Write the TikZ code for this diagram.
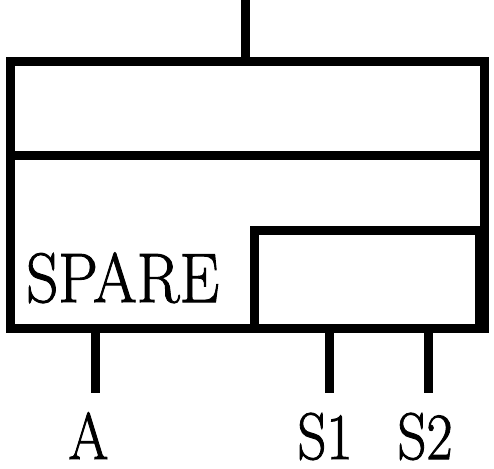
\documentclass[tikz,border=0pt]{standalone}
\usepackage{fontspec}
\newfontfamily\lmfat[FakeBold=1.5]{Latin Modern Roman}
\begin{document}
\begin{tikzpicture}[x=1pt,y=-1pt,
  wire/.style={line width=9pt, line cap=butt},
  box/.style={draw, line width=9pt, line join=miter},
  lbl/.style={inner sep=0pt, anchor=base, font=\lmfat\fontsize{66}{66}\selectfont}]
\useasboundingbox (0,0) rectangle (494,468);
% outer box
\coordinate (oTL) at (10.5,61.7);
\coordinate (oBR) at (484,328.5);
\draw[box] (oTL) rectangle (oBR);
\coordinate (divL) at (10.5,155);
\coordinate (divR) at (484,155);
\draw[wire] (divL) -- (divR);
% inner box
\coordinate (iTL) at (254.5,230.5);
\coordinate (iBR) at (479.5,328.5);
\draw[box] (iTL) rectangle (iBR);
% text
\node (spare) [inner sep=0pt, anchor=base west, font=\lmfat\fontsize{70}{70}\selectfont] at (26,302) {\scalebox{0.9}[1]{SPARE}};
% top wire
\coordinate (topEnd) at (245,0);
\coordinate (topJoin) at (245,61.7);
\draw[wire] (topEnd) -- (topJoin);
% bottom wires
\coordinate (aJoin) at (95,328.5);
\coordinate (aEnd) at (95,393);
\coordinate (s1Join) at (329.5,328.5);
\coordinate (s1End) at (329.5,393);
\coordinate (s2Join) at (428,328.5);
\coordinate (s2End) at (428,393);
\draw[wire] (aJoin) -- (aEnd);
\draw[wire] (s1Join) -- (s1End);
\draw[wire] (s2Join) -- (s2End);
% labels
\node (A) [lbl] at (88.5,459) {\scalebox{0.87}[1]{A}};
\node (S1) [lbl] at (325,459) {\scalebox{0.86}[1]{S1}};
\node (S2) [lbl] at (425,459) {\scalebox{0.86}[1]{S2}};
\end{tikzpicture}
\end{document}
